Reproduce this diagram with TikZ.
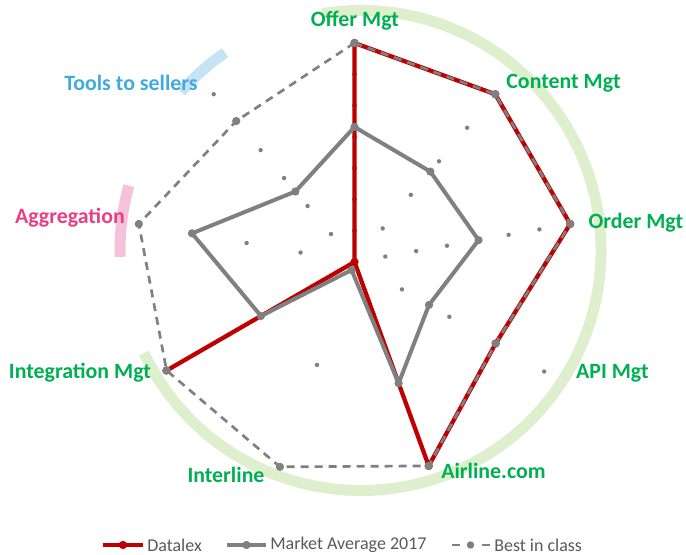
\documentclass[tikz,border=0pt]{standalone}
\usepackage{fontspec}
\setmainfont{Carlito}
\definecolor{dlred}{RGB}{192,0,0}
\definecolor{avggray}{RGB}{128,128,128}
\definecolor{lblgreen}{RGB}{0,176,80}
\definecolor{lblpink}{RGB}{233,62,128}
\definecolor{lblblue}{RGB}{65,170,225}
\definecolor{arcgreen}{RGB}{221,239,205}
\definecolor{arcpink}{RGB}{246,194,217}
\definecolor{arcblue}{RGB}{197,227,245}
\definecolor{legendtext}{RGB}{89,89,89}

\begin{document}
\begin{tikzpicture}[x=0.75pt,y=0.75pt,
    every node/.style={inner sep=0pt},
    axislabel/.style={font=\fontsize{16.4}{19}\selectfont\bfseries,anchor=base,text=lblgreen},
    legendlabel/.style={font=\fontsize{13.5}{16}\selectfont,anchor=west,text=legendtext},
    axisdots/.style={draw=avggray,line width=3.3pt,line cap=round,dash pattern=on 0.01pt off #1},
    band/.style={line width=8.25pt},
    datalex/.style={draw=dlred,line width=3.2pt,line join=round},
    marketavg/.style={draw=avggray,line width=3pt,line join=round},
    bestclass/.style={draw=avggray,line width=2pt,dash pattern=on 6pt off 4.5pt},
    redmark/.style={fill=dlred},
    graymark/.style={fill=avggray}]
  \useasboundingbox (-354.5,-293) rectangle (331.5,262);

  % highlight bands
  \coordinate (arcc) at (6.5,11.5);
  \draw[band,arcgreen] (arcc) ++(99.3:240) arc[start angle=99.3,end angle=-154.7,radius=240];
  \draw[band,arcpink] (arcc) ++(164.4:241) arc[start angle=164.4,end angle=181.5,radius=241];
  \draw[band,arcblue] (arcc) ++(124.5:240) arc[start angle=124.5,end angle=138.6,radius=240];

  % axes
  \coordinate (O) at (0,0);
  \coordinate (a1) at (90:219.5);
  \coordinate (a2) at (50:219.5);
  \coordinate (a3) at (10:219.5);
  \coordinate (a4) at (-30:219.5);
  \coordinate (a5) at (-70:219.5);
  \coordinate (a6) at (-110:219.5);
  \coordinate (a7) at (-150:219.5);
  \coordinate (a8) at (170:219.5);
  \coordinate (a9) at (130:219.5);
  \draw[axisdots=23.46pt] (O) -- (a1);
  \draw[axisdots=32.85pt] (O) -- (a2);
  \draw[axisdots=23.46pt] (O) -- (a3);
  \draw[axisdots=41.06pt] (O) -- (a4);
  \draw[axisdots=41.06pt] (O) -- (a5);
  \draw[axisdots=82.12pt] (O) -- (a6);
  \draw[axisdots=27.37pt] (O) -- (a7);
  \draw[axisdots=41.06pt] (O) -- (a8);
  \draw[axisdots=27.37pt] (O) -- (a9);

  % Datalex
  \coordinate (d1) at (90:219);
  \coordinate (d2) at (50:219);
  \coordinate (d3) at (10:219);
  \coordinate (d4) at (-30:163);
  \coordinate (d5) at (-70:217);
  \coordinate (d6) at (O);
  \coordinate (d7) at (-150:217);
  \coordinate (d8) at (O);
  \coordinate (d9) at (O);
  \draw[datalex] (d1) -- (d2) -- (d3) -- (d4) -- (d5) -- (d6) -- (d7) -- (d8) -- (d9) -- cycle;
  \fill[redmark] (d1) circle (3.1pt) (d2) circle (3.1pt) (d3) circle (3.1pt)
    (d4) circle (3.1pt) (d5) circle (3.1pt) (d6) circle (3.1pt) (d7) circle (3.1pt);

  % market average
  \coordinate (m1) at (90:135);
  \coordinate (m2) at (50:118);
  \coordinate (m3) at (10:126);
  \coordinate (m4) at (-30:86);
  \coordinate (m5) at (-70:129);
  \coordinate (m6) at (-110:8.5);
  \coordinate (m7) at (-150:108);
  \coordinate (m8) at (170:165);
  \coordinate (m9) at (130:92);
  \draw[marketavg] (m1) -- (m2) -- (m3) -- (m4) -- (m5) -- (m6) -- (m7) -- (m8) -- (m9) -- cycle;
  \fill[graymark] (m1) circle (3.1pt) (m2) circle (3.1pt) (m3) circle (3.1pt)
    (m4) circle (3.1pt) (m5) circle (3.1pt) (m6) circle (3.1pt) (m7) circle (3.1pt)
    (m8) circle (3.1pt) (m9) circle (3.1pt);

  % best in class
  \coordinate (b1) at (90:219);
  \coordinate (b2) at (50:219);
  \coordinate (b3) at (10:219);
  \coordinate (b4) at (-30:163);
  \coordinate (b5) at (-70:217);
  \coordinate (b6) at (-110:218);
  \coordinate (b7) at (-150:217);
  \coordinate (b8) at (170:219);
  \coordinate (b9) at (130:184);
  \draw[bestclass] (b1) -- (b2) -- (b3) -- (b4) -- (b5) -- (b6) -- (b7) -- (b8) -- (b9) -- cycle;
  \fill[graymark] (b1) circle (3.1pt) (b2) circle (3.1pt) (b3) circle (3.1pt)
    (b4) circle (3.1pt) (b5) circle (3.1pt) (b6) circle (3.1pt) (b7) circle (3.1pt)
    (b8) circle (3.1pt) (b9) circle (3.1pt);

  % labels
  \node[axislabel] (offer) at (0.5,235) {Offer Mgt};
  \node[axislabel] (content) at (209,173) {Content Mgt};
  \node[axislabel] (order) at (281.5,33) {Order Mgt};
  \node[axislabel] (api) at (258,-117) {API Mgt};
  \node[axislabel] (airline) at (139,-217) {Airline.com};
  \node[axislabel] (interline) at (-128.5,-221) {Interline};
  \node[axislabel] (integration) at (-274.5,-117) {Integration Mgt};
  \node[axislabel,text=lblpink] (aggregation) at (-284.5,38) {Aggregation};
  \node[axislabel,text=lblblue] (tools) at (-223.5,171) {Tools to sellers};

  % legend
  \coordinate (l1a) at (-251.5,-283);
  \coordinate (l1m) at (-231.5,-283);
  \coordinate (l1b) at (-211.5,-283);
  \draw[datalex] (l1a) -- (l1b);
  \fill[redmark] (l1m) circle (3.1pt);
  \node[legendlabel] (leg1) at (-207.5,-283) {Datalex};
  \coordinate (l2a) at (-127.5,-283);
  \coordinate (l2m) at (-108,-283);
  \coordinate (l2b) at (-88.5,-283);
  \draw[marketavg] (l2a) -- (l2b);
  \fill[graymark] (l2m) circle (3.1pt);
  \node[legendlabel] (leg2) at (-84.5,-283) {Market Average 2017};
  \coordinate (l3a) at (97.5,-283);
  \coordinate (l3m) at (116,-283);
  \coordinate (l3b) at (135.5,-283);
  \draw[draw=avggray,line width=2pt,dash pattern=on 6pt off 16.5pt] (l3a) -- (l3b);
  \fill[graymark] (l3m) circle (2.8pt);
  \node[legendlabel] (leg3) at (139.5,-283) {Best in class};
\end{tikzpicture}
\end{document}
